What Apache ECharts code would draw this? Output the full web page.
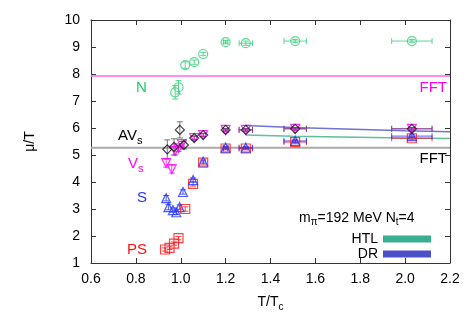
<!DOCTYPE html>
<html><head><meta charset="utf-8">
<script src="https://cdn.jsdelivr.net/npm/echarts@6/dist/echarts.min.js"></script>
<style>html,body{margin:0;padding:0;background:#fff}#c{width:475px;height:333px}</style>
</head><body><div id="c"></div>
<script>
// ---- data ----
const xTickLabels = ['0.6','0.8','1.0','1.2','1.4','1.6','1.8','2.0','2.2'];
const yTickLabels = ['1','2','3','4','5','6','7','8','9','10'];

const nX    = [0.975, 0.99, 1.02, 1.06, 1.10, 1.20, 1.29, 1.51, 2.03];
const nY    = [7.32, 7.51, 8.33, 8.44, 8.74, 9.18, 9.14, 9.22, 9.22];
const nYErr = [0.25, 0.25, 0.12, 0.08, 0.06, 0.06, 0.08, 0.06, 0.06];
const nXErr = [0, 0, 0, 0, 0, 0.01, 0.03, 0.05, 0.09];

const avsX    = [0.94, 0.97, 0.996, 1.014, 1.06, 1.10, 1.20, 1.29, 1.51, 2.03];
const avsY    = [5.21, 5.30, 5.93, 5.37, 5.63, 5.74, 5.93, 5.93, 5.97, 5.97];
const avsYErr = [0.35, 0.30, 0.30, 0.15, 0.08, 0.06, 0.05, 0.05, 0.05, 0.05];
const avsXErr = [0, 0, 0, 0, 0, 0, 0.01, 0.03, 0.05, 0.09];

const vsX    = [0.935, 0.96, 0.975, 0.99, 1.005, 1.06, 1.10, 1.20, 1.29, 1.51, 2.03];
const vsY    = [4.70, 4.48, 5.15, 5.25, 5.40, 5.63, 5.74, 5.93, 5.93, 5.97, 5.97];
const vsYErr = [0.15, 0.15, 0.15, 0.12, 0.10, 0.06, 0.05, 0.05, 0.05, 0.05, 0.05];
const vsXErr = [0, 0, 0, 0, 0, 0, 0, 0.01, 0.03, 0.05, 0.09];

const sX    = [0.935, 0.945, 0.965, 0.98, 0.995, 1.01, 1.055, 1.10, 1.20, 1.29, 1.51, 2.03];
const sY    = [3.40, 3.07, 2.96, 2.88, 3.07, 3.63, 4.07, 4.76, 5.27, 5.27, 5.52, 5.70];
const sYErr = [0.10, 0.10, 0.08, 0.08, 0.08, 0.08, 0.08, 0.06, 0.05, 0.05, 0.05, 0.05];
const sXErr = [0, 0, 0, 0, 0, 0, 0, 0, 0.01, 0.03, 0.05, 0.09];

const psX    = [0.93, 0.95, 0.97, 0.99, 1.02, 1.055, 1.10, 1.20, 1.29, 1.51, 2.03];
const psY    = [1.50, 1.56, 1.72, 1.92, 3.00, 3.93, 4.72, 5.24, 5.24, 5.48, 5.62];
const psYErr = [0.06, 0.06, 0.06, 0.06, 0.08, 0.08, 0.06, 0.05, 0.05, 0.05, 0.05];
const psXErr = [0, 0, 0, 0, 0, 0, 0, 0.01, 0.03, 0.05, 0.09];

const htlX = [1.29, 1.5, 2.0, 2.2];
const htlY = [5.74, 5.69, 5.63, 5.61];
const drX  = [1.29, 1.5, 2.0, 2.2];
const drY  = [6.09, 6.02, 5.90, 5.86];

const fftX = [0.6, 2.2];
const fftNucleon = [7.93, 7.93];
const fftMeson   = [5.27, 5.27];

// ---- styles ----
const C = {N:'#33d17a', AVs:'#111111', Vs:'#ff00ff', S:'#2233ff', PS:'#ff1111',
           HTL:'#3aae8e', DR:'#4b50c8'};
const FONT = 'Liberation Sans, Arial, Helvetica, sans-serif';

function zip(xs, ys){ return xs.map((x,i)=>[x, ys[i]]); }

function errSeries(xs, ys, xe, ye, color){
  return {
    type:'custom', silent:true, z:2,
    dimensions:['x','y','ex','ey'], encode:{x:0, y:1},
    data: xs.map((x,i)=>[x, ys[i], xe[i], ye[i]]),
    renderItem: function(params, api){
      const x=api.value(0), y=api.value(1), ex=api.value(2), ey=api.value(3);
      const ch=[]; const cap=3; const st={stroke:color, lineWidth:1, opacity:0.8};
      if(ey>0){
        const a=api.coord([x,y-ey]), b=api.coord([x,y+ey]);
        ch.push({type:'line', shape:{x1:a[0],y1:a[1],x2:b[0],y2:b[1]}, style:st});
        ch.push({type:'line', shape:{x1:a[0]-cap,y1:a[1],x2:a[0]+cap,y2:a[1]}, style:st});
        ch.push({type:'line', shape:{x1:b[0]-cap,y1:b[1],x2:b[0]+cap,y2:b[1]}, style:st});
      }
      if(ex>0){
        const a=api.coord([x-ex,y]), b=api.coord([x+ex,y]);
        ch.push({type:'line', shape:{x1:a[0],y1:a[1],x2:b[0],y2:b[1]}, style:st});
        ch.push({type:'line', shape:{x1:a[0],y1:a[1]-cap,x2:a[0],y2:a[1]+cap}, style:st});
        ch.push({type:'line', shape:{x1:b[0],y1:b[1]-cap,x2:b[0],y2:b[1]+cap}, style:st});
      }
      return {type:'group', children:ch};
    }
  };
}
function markSeries(name, xs, ys, color, symbol, rotate){
  return {
    name, type:'scatter', z:3, symbol, symbolRotate: rotate||0, symbolSize: 9,
    data: zip(xs, ys),
    itemStyle:{color:'rgba(255,255,255,0)', borderColor: color, borderWidth: 1.2},
    emphasis:{disabled:true}
  };
}

const chart = echarts.init(document.getElementById('c'), null, {renderer:'canvas'});

const axisCommon = {
  axisLine:{show:true, lineStyle:{color:'#333', width:1}},
  axisTick:{show:true, inside:true, length:5, lineStyle:{color:'#333'}},
  splitLine:{show:false}
};

const option = {
  animation:false,
  backgroundColor:'#fff',
  textStyle:{fontFamily:FONT},
  grid:{left:91, right:25, top:20, bottom:70, show:false},
  xAxis:[
    Object.assign({type:'value', min:0.6, max:2.2, interval:0.2, position:'bottom',
      name:'{a|T/T}{b|c}', nameLocation:'middle', nameGap:30,
      nameTextStyle:{rich:{a:{fontSize:14, color:'#000', fontFamily:FONT},
                           b:{fontSize:10, color:'#000', fontFamily:FONT, padding:[9,0,0,0]}}},
      axisLabel:{margin:9, fontSize:14, color:'#000', fontFamily:FONT,
        formatter: v => xTickLabels[Math.round((v-0.6)/0.2)] || ''}}, axisCommon),
    Object.assign({type:'value', min:0.6, max:2.2, interval:0.2, position:'top',
      axisLabel:{show:false}}, axisCommon)
  ],
  yAxis:[
    Object.assign({type:'value', min:1, max:10, interval:1, position:'left',
      name:'μ/T', nameLocation:'middle', nameGap:54, nameRotate:90,
      nameTextStyle:{fontSize:14, color:'#000', fontFamily:FONT},
      axisLabel:{margin:11, fontSize:14, color:'#000', fontFamily:FONT,
        formatter: v => yTickLabels[Math.round(v-1)] || ''}}, axisCommon),
    Object.assign({type:'value', min:1, max:10, interval:1, position:'right',
      axisLabel:{show:false}}, axisCommon)
  ],
  legend:{
    data:[{name:'HTL', icon:'rect'}, {name:'DR', icon:'rect'}],
    orient:'vertical', align:'right', right:44, top:232, padding:0,
    itemWidth:48, itemHeight:7, itemGap:1,
    textStyle:{fontSize:14, color:'#000', fontFamily:FONT}, selectedMode:false
  },
  series:[
    {type:'line', data:zip(fftX, fftNucleon), symbol:'none', silent:true, z:1,
      lineStyle:{color:'#ff66ff', width:1.5}},
    {type:'line', data:zip(fftX, fftMeson), symbol:'none', silent:true, z:1,
      lineStyle:{color:'#aaaaaa', width:2}},
    {name:'HTL', type:'line', data:zip(htlX, htlY), symbol:'none', silent:true, z:1,
      color:C.HTL, itemStyle:{color:C.HTL}, lineStyle:{color:C.HTL, width:1.5, opacity:0.8}},
    {name:'DR', type:'line', data:zip(drX, drY), symbol:'none', silent:true, z:1,
      color:C.DR, itemStyle:{color:C.DR}, lineStyle:{color:C.DR, width:1.5, opacity:0.8}},
    errSeries(nX, nY, nXErr, nYErr, C.N),
    errSeries(psX, psY, psXErr, psYErr, C.PS),
    errSeries(sX, sY, sXErr, sYErr, C.S),
    errSeries(vsX, vsY, vsXErr, vsYErr, C.Vs),
    errSeries(avsX, avsY, avsXErr, avsYErr, '#555'),
    markSeries('N', nX, nY, C.N, 'circle'),
    markSeries('PS', psX, psY, C.PS, 'rect'),
    markSeries('S', sX, sY, C.S, 'triangle'),
    markSeries('Vs', vsX, vsY, C.Vs, 'triangle', 180),
    markSeries('AVs', avsX, avsY, C.AVs, 'diamond')
  ],
  graphic:[
    {type:'text', x:136, y:88, style:{text:'N', fill:'#22cc66', font:'15px '+FONT, verticalAlign:'middle', textVerticalAlign:'middle'}},
    {type:'text', x:118, y:136, style:{text:'{a|AV}{b|s}', fill:'#000', font:'15px '+FONT, verticalAlign:'middle', textVerticalAlign:'middle',
      rich:{a:{fontSize:15, fill:'#000', fontFamily:FONT}, b:{fontSize:11, fill:'#000', fontFamily:FONT, padding:[9,0,0,0]}}}},
    {type:'text', x:128, y:164, style:{text:'{a|V}{b|s}', fill:C.Vs, font:'15px '+FONT, verticalAlign:'middle', textVerticalAlign:'middle',
      rich:{a:{fontSize:15, fill:C.Vs, fontFamily:FONT}, b:{fontSize:11, fill:C.Vs, fontFamily:FONT, padding:[9,0,0,0]}}}},
    {type:'text', x:137, y:198, style:{text:'S', fill:C.S, font:'15px '+FONT, verticalAlign:'middle', textVerticalAlign:'middle'}},
    {type:'text', x:127, y:250, style:{text:'PS', fill:C.PS, font:'15px '+FONT, verticalAlign:'middle', textVerticalAlign:'middle'}},
    {type:'text', x:447, y:88, style:{text:'FFT', fill:'#ff00ff', font:'15px '+FONT, align:'right', textAlign:'right', verticalAlign:'middle', textVerticalAlign:'middle'}},
    {type:'text', x:447, y:159, style:{text:'FFT', fill:'#000', font:'15px '+FONT, align:'right', textAlign:'right', verticalAlign:'middle', textVerticalAlign:'middle'}},
    {type:'text', x:299, y:218, style:{text:'{a|m}{b|π}{a|=192 MeV N}{b|t}{a|=4}', fill:'#000', font:'14px '+FONT, verticalAlign:'middle', textVerticalAlign:'middle',
      rich:{a:{fontSize:14, fill:'#000', fontFamily:FONT}, b:{fontSize:10, fill:'#000', fontFamily:FONT, padding:[8,0,0,0]}}}}
  ]
};
chart.setOption(option);
</script></body></html>
